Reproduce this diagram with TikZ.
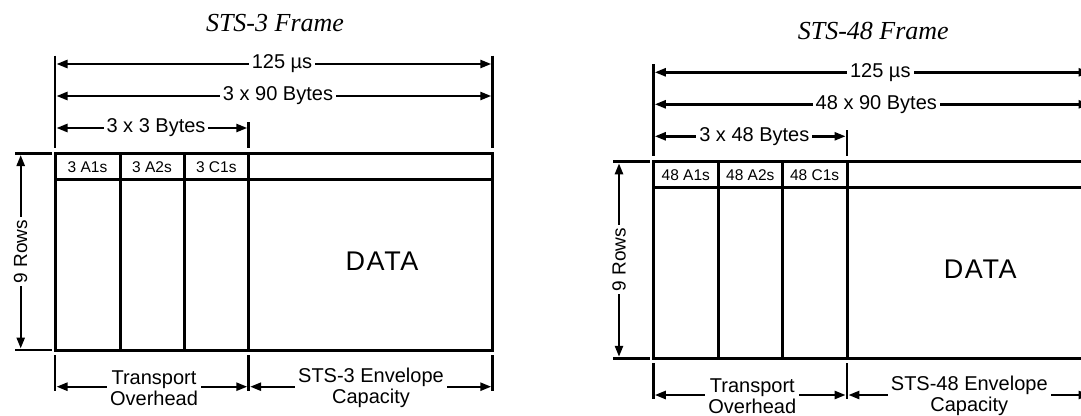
\documentclass[tikz,border=0pt]{standalone}
\usepackage{fontspec}
\setmainfont{Liberation Sans}
\newfontfamily\titlefont{Liberation Serif}
\usetikzlibrary{arrows.meta}
\tikzstyle{frameline} = [line width=3pt]
\tikzstyle{extline} = [line width=2.8pt]
\tikzstyle{dimarrow} = [line width=2.4pt, {Triangle[length=11pt,width=8pt]}-{Triangle[length=11pt,width=8pt]}]
\tikzstyle{dimlabel} = [fill=white, inner xsep=3pt, inner ysep=1pt, font=\fontsize{20}{22}\selectfont]
\tikzstyle{baselabel} = [fill=white, inner xsep=3pt, inner ysep=0pt, align=center, font=\fontsize{20}{21}\selectfont]
\tikzstyle{celllabel} = [font=\fontsize{15.5}{17}\selectfont]
\tikzstyle{datalabel} = [font=\addfontfeature{LetterSpace=6}\fontsize{27}{30}\selectfont]
\tikzstyle{titlelabel} = [font=\titlefont\itshape\fontsize{26}{30}\selectfont]

\begin{document}
\begin{tikzpicture}[x=1pt, y=-1pt]
        \useasboundingbox (0,0) rectangle (1081,415);
        \clip (0,0) rectangle (1081,415);
        \foreach \n/\dx/\dy in {3/0/0, 48/598.3/8.3} {
        \begin{scope}[shift={(\dx,\dy)}]
        % Title
        \node (title\n) [titlelabel] at (275,23) {STS-\n{} Frame};

        % Frame
        \draw [frameline] (55,153.3) rectangle (492.7,350);
        \draw [frameline] (55,179) -- (492.7,179);
        \draw [frameline] (120,153.3) -- (120,350);
        \draw [frameline] (184,153.3) -- (184,350);
        \draw [frameline] (248.7,153.3) -- (248.7,350);
        \node (aone\n) [celllabel] at (87.5,167) {\n{} A1s};
        \node (atwo\n) [celllabel] at (152,167) {\n{} A2s};
        \node (cone\n) [celllabel] at (216.3,167) {\n{} C1s};
        \node (data\n) [datalabel] at (382,261) {DATA};

        % Extension lines
        \coordinate (tl\n) at (55,55.7);
        \coordinate (tr\n) at (492.7,55.7);
        \coordinate (tm\n) at (248.7,122);
        \draw [extline] (tl\n) -- (55,148);
        \draw [extline] (tr\n) -- (492.7,148);
        \draw [extline] (tm\n) -- (248.7,148);
        \draw [extline] (55,355) -- (55,391);
        \draw [extline] (248.7,355) -- (248.7,391);
        \draw [extline] (492.7,355) -- (492.7,391);
        \draw [extline] (15,153.3) -- (51.7,153.3);
        \draw [extline] (15,350) -- (51.7,350);

        % Dimension arrows
        \coordinate (usl\n) at (56.5,64);
        \coordinate (usr\n) at (491.3,64);
        \coordinate (byl\n) at (56.5,96);
        \coordinate (byr\n) at (491.3,96);
        \coordinate (ohl\n) at (56.5,128);
        \coordinate (ohr\n) at (247.3,128);
        \coordinate (rowt\n) at (20.7,155);
        \coordinate (rowb\n) at (20.7,348.5);
        \coordinate (tol\n) at (56.5,386.7);
        \coordinate (tor\n) at (247.3,386.7);
        \coordinate (envl\n) at (250.1,386.7);
        \coordinate (envr\n) at (491.3,386.7);
        \draw [dimarrow] (usl\n) -- (usr\n);
        \draw [dimarrow] (byl\n) -- (byr\n);
        \draw [dimarrow] (ohl\n) -- (ohr\n);
        \draw [dimarrow] (rowt\n) -- (rowb\n);
        \draw [dimarrow] (tol\n) -- (tor\n);
        \draw [dimarrow] (envl\n) -- (envr\n);
        \node (us\n) [dimlabel] at (282,64) {125 µs};
        \node (bytes\n) [dimlabel] at (278,96) {\n{} x 90 Bytes};
        \node (toh\n) [dimlabel] at (156,128) {3 x \n{} Bytes};
        \node (rows\n) [dimlabel, rotate=90, font=\fontsize{19}{20}\selectfont] at (20.7,251.5) {9 Rows};
        \node (trans\n) [baselabel] at (154,388) {Transport\\Overhead};
        \node (env\n) [baselabel] at (371,388) {STS-\n{} Envelope\\Capacity};
        \end{scope}
        }
    \end{tikzpicture}
\end{document}
